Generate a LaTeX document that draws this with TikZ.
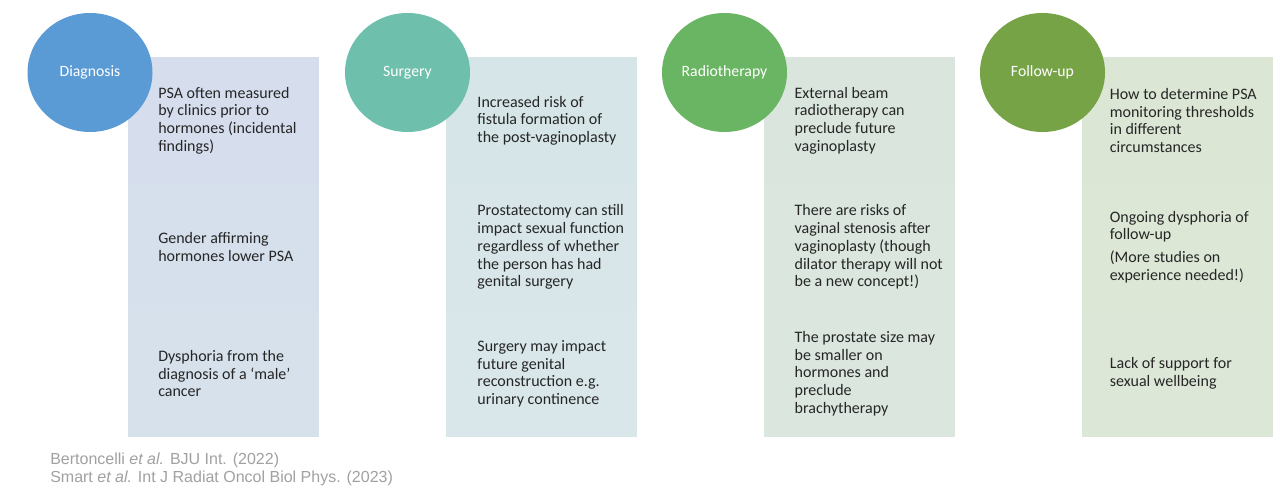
\documentclass[tikz,border=0pt]{standalone}
\usepackage{fontspec}
\setmainfont{Carlito}
\newfontfamily\citefont{Liberation Sans}
\usetikzlibrary{positioning, shapes.geometric}

% colores de las columnas
\definecolor{dxblue}{HTML}{5B9BD5}
\definecolor{sgteal}{HTML}{6EBFAB}
\definecolor{rtgreen}{HTML}{6AB563}
\definecolor{fuolive}{HTML}{77A347}
\definecolor{dxpanel}{HTML}{D6DEEE}
\definecolor{sgpanel}{HTML}{D6E5E8}
\definecolor{rtpanel}{HTML}{D9E5DD}
\definecolor{fupanel}{HTML}{DBE6D5}

\begin{document}
\begin{tikzpicture}[
    x=0.75pt, y=-0.75pt,
    bubble/.style={
        ellipse,
        minimum width=93.75pt,
        minimum height=89.25pt,
        inner sep=0pt,
        text=white,
        font=\fontsize{11.8}{13}\selectfont,
    },
    panel/.style={
        rectangle,
        minimum width=143.25pt,
        minimum height=95pt,
        inner sep=0pt,
    },
    txt/.style={align=left, inner sep=0pt, text=black!85, font=\fontsize{12}{13.3}\selectfont},
    cite/.style={align=left, inner sep=0pt, text=black!37, font=\citefont\fontsize{12}{13.5}\selectfont}
]
\path[use as bounding box, fill=white] (0,0) rectangle (1281,491);

% Paneles (se solapan un poco para no dejar rendijas)
\node[panel, fill=dxpanel, anchor=north west] (dxa) at (128,57) {};
\node[panel, fill=dxpanel!70!sgpanel, below=-0.5pt of dxa] (dxb) {};
\node[panel, fill=dxpanel!60!sgpanel, below=-0.5pt of dxb] (dxc) {};
\node[panel, fill=sgpanel, right=94.75pt of dxa] (sga) {};
\node[panel, fill=sgpanel!96!white, below=-0.5pt of sga] (sgb) {};
\node[panel, fill=sgpanel!93!white, below=-0.5pt of sgb] (sgc) {};
\node[panel, fill=rtpanel, right=94.75pt of sga] (rta) {};
\node[panel, fill=rtpanel!97!white, below=-0.5pt of rta] (rtb) {};
\node[panel, fill=rtpanel!95!white, below=-0.5pt of rtb] (rtc) {};
\node[panel, fill=fupanel, right=94.75pt of rta] (fua) {};
\node[panel, fill=fupanel!97!white, below=-0.5pt of fua] (fub) {};
\node[panel, fill=fupanel!95!white, below=-0.5pt of fub] (fuc) {};

% Textos
\node[txt, right=22.5pt of dxa.west] (dxa-t) {PSA often measured\\by clinics prior to\\hormones (incidental\\findings)};
\node[txt, right=22.5pt of dxb.west] (dxb-t) {Gender affirming\\hormones lower PSA};
\node[txt, right=22.5pt of dxc.west] (dxc-t) {Dysphoria from the\\diagnosis of a `male'\\cancer};
\node[txt, right=23.5pt of sga.west] (sga-t) {Increased risk of\\fistula formation of\\the post-vaginoplasty};
\node[txt, right=23.5pt of sgb.west] (sgb-t) {Prostatectomy can still\\impact sexual function\\regardless of whether\\the person has had\\genital surgery};
\node[txt, right=23.5pt of sgc.west] (sgc-t) {Surgery may impact\\future genital\\reconstruction e.g.\\urinary continence};
\node[txt, right=23pt of rta.west] (rta-t) {External beam\\radiotherapy can\\preclude future\\vaginoplasty};
\node[txt, right=23pt of rtb.west] (rtb-t) {There are risks of\\vaginal stenosis after\\vaginoplasty (though\\dilator therapy will not\\be a new concept!)};
\node[txt, right=23pt of rtc.west] (rtc-t) {The prostate size may\\be smaller on\\hormones and\\preclude\\brachytherapy};
\node[txt, right=21pt of fua.west] (fua-t) {How to determine PSA\\monitoring thresholds\\in different\\circumstances};
\node[txt, right=21pt of fub.west] (fub-t) {Ongoing dysphoria of\\follow-up\\[4pt](More studies on\\experience needed!)};
\node[txt, right=21pt of fuc.west] (fuc-t) {Lack of support for\\sexual wellbeing};

% Burbujas (encima de los paneles)
\node[bubble, fill=dxblue] (dx) at (90,72.5) {Diagnosis};
\node[bubble, fill=sgteal] (sg) at (407.5,72.5) {Surgery};
\node[bubble, fill=rtgreen] (rt) at (724.5,72.5) {Radiotherapy};
\node[bubble, fill=fuolive] (fu) at (1042.5,72.5) {Follow-up};

% Referencias
\node[cite, anchor=north west] (refs) at (50,453) {Bertoncelli \textit{et al.} BJU Int. (2022)\\Smart \textit{et al.} Int J Radiat Oncol Biol Phys. (2023)};

\end{tikzpicture}
\end{document}
